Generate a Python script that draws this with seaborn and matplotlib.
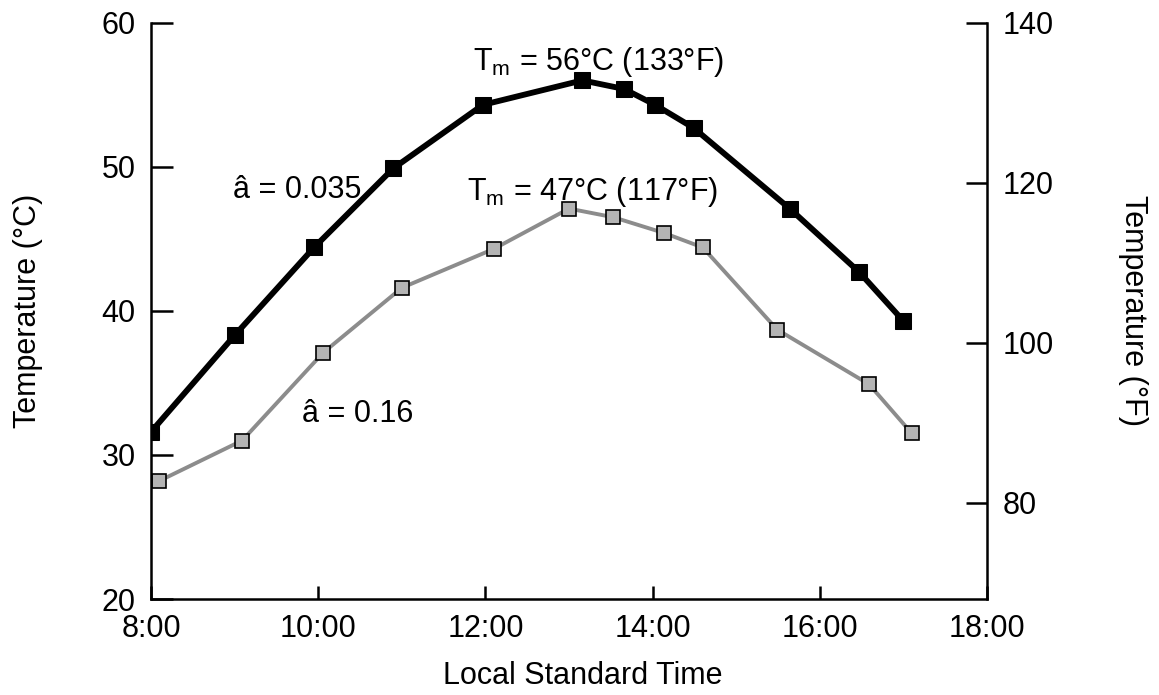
import matplotlib
matplotlib.use("Agg")
import matplotlib.pyplot as plt
import seaborn as sns
import pandas as pd
import numpy as np

# ---- data ----
hours_low = [8.0, 9.0, 9.95, 10.9, 11.97, 13.16, 13.66, 14.03, 14.49, 15.64, 16.47, 17.0]
temp_low = [31.6, 38.3, 44.4, 49.9, 54.3, 56.0, 55.4, 54.3, 52.7, 47.1, 42.7, 39.3]

hours_high = [8.1, 9.09, 10.06, 11.0, 12.1, 13.0, 13.53, 14.14, 14.6, 15.49, 16.59, 17.1]
temp_high = [28.2, 31.0, 37.1, 41.6, 44.3, 47.1, 46.5, 45.4, 44.4, 38.7, 34.9, 31.5]

x_ticks = [8, 10, 12, 14, 16, 18]
x_ticklabels = ["8:00", "10:00", "12:00", "14:00", "16:00", "18:00"]
c_ticks = [20, 30, 40, 50, 60]
f_ticks = [80, 100, 120, 140]

df_low = pd.DataFrame({"time": hours_low, "temp": temp_low})
df_high = pd.DataFrame({"time": hours_high, "temp": temp_high})

sns.set_style("ticks")
plt.rcParams["font.family"] = ["Liberation Sans", "DejaVu Sans"]
plt.rcParams["mathtext.default"] = "regular"
plt.rcParams["text.color"] = "black"
plt.rcParams["axes.labelcolor"] = "black"

FS = 22

fig = plt.figure(figsize=(11.59, 6.95), dpi=100)
ax = fig.add_axes([0.1303, 0.1381, 0.8516 - 0.1303, 0.9673 - 0.1381])

sns.lineplot(data=df_high, x="time", y="temp", ax=ax, color="#8c8c8c", lw=2.8,
             marker="s", markersize=10.5, markerfacecolor="#b4b4b4",
             markeredgecolor="black", markeredgewidth=1.2, sort=False)
sns.lineplot(data=df_low, x="time", y="temp", ax=ax, color="black", lw=4.2,
             marker="s", markersize=12, markerfacecolor="black",
             markeredgecolor="black", sort=False)

ax.set_xlim(8, 18)
ax.set_ylim(20, 60)
ax.set_xticks(x_ticks)
ax.set_xticklabels(x_ticklabels)
ax.set_yticks(c_ticks)
for s in ["top", "right"]:
    ax.spines[s].set_visible(False)
for s in ["left", "bottom"]:
    ax.spines[s].set_linewidth(1.8)
    ax.spines[s].set_color("black")
ax.tick_params(axis="y", direction="in", length=16, width=1.8, pad=11, labelsize=FS, colors="black")
ax.tick_params(axis="x", direction="in", length=9.5, width=1.8, pad=11, labelsize=FS, colors="black")
ax.set_xlabel("Local Standard Time", fontsize=FS, color="black")
ax.set_ylabel("Temperature (°C)", fontsize=FS, va="center", color="black")
ax.yaxis.set_label_coords(-0.147, 0.5)
ax.xaxis.set_label_coords(0.516, -0.108)

ax2 = ax.twinx()
ax2.set_ylim(20 * 9 / 5 + 32, 60 * 9 / 5 + 32)
ax2.set_yticks(f_ticks)
for s in ["top", "left", "bottom"]:
    ax2.spines[s].set_visible(False)
ax2.spines["right"].set_linewidth(1.8)
ax2.spines["right"].set_color("black")
ax2.tick_params(axis="y", direction="in", length=15, width=1.8, pad=11, labelsize=FS, colors="black")
ax2.set_ylabel("Temperature (°F)", fontsize=FS, rotation=270, va="center", color="black")
ax2.yaxis.set_label_coords(1.175, 0.5)
ax2.grid(False)

ax.text(11.85, 56.7, "T$_m$ = 56°C (133°F)", fontsize=FS, ha="left", va="baseline", color="black")
ax.text(11.78, 47.7, "T$_m$ = 47°C (117°F)", fontsize=FS, ha="left", va="baseline", color="black")
ax.text(8.98, 47.8, "â = 0.035", fontsize=FS, ha="left", va="baseline", color="black")
ax.text(9.81, 32.3, "â = 0.16", fontsize=FS, ha="left", va="baseline", color="black")

fig.savefig("out.png", dpi=100, facecolor="white")
